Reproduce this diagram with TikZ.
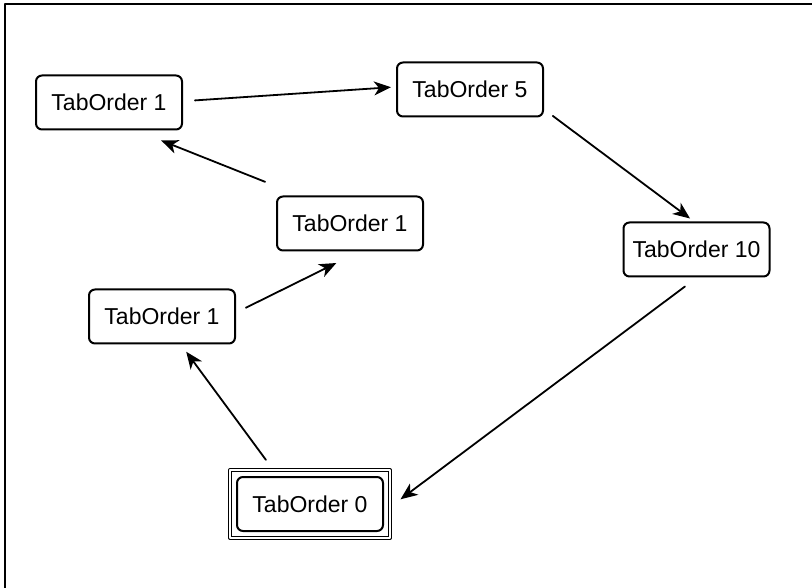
\documentclass[tikz,border=0pt]{standalone}
\usepackage{fontspec}
\setmainfont{Liberation Sans}
\usetikzlibrary{arrows.meta, fit}
\begin{document}
\begin{tikzpicture}[x=1pt, y=-1pt, line join=round, line cap=round,
	every node/.style={font=\fontsize{23}{27}\selectfont},
	tabbox/.style={draw, line width=2pt, rounded corners=6pt, minimum width=146pt, minimum height=54pt, inner sep=4pt},
	link/.style={-{Stealth[length=17pt, width=14pt, inset=5pt]}, line width=1.8pt}]
	
	\useasboundingbox (0,0) rectangle (812,588);
	
	\draw[line width=2.5pt, line cap=butt] (5,588) -- (5,4) -- (812,4);
	
	\node[tabbox] (topleft) at (109,102.5) {TabOrder 1};
	
	\node[tabbox] (five) at (470,89.5) {TabOrder 5};
	
	\node[tabbox] (ten) at (696.5,249.5) {TabOrder 10};
	
	\node[tabbox] (middle) at (350,223.5) {TabOrder 1};
	
	\node[tabbox] (lower) at (162,316.5) {TabOrder 1};
	
	\node[tabbox] (zero) at (310,504) {TabOrder 0};
	
	\node[draw, double, double distance=2pt, line width=1pt, inner sep=6pt, fit=(zero)] (zeroframe) {};
	
	\draw[link, shorten <=12pt, shorten >=5pt] (topleft.1.4) -- (five.178.6);
	
	\draw[link, shorten <=11pt, shorten >=5pt] (five.-15.1) -- (ten.95.4);
	
	\draw[link, shorten <=15pt, shorten >=12.5pt] (ten.-89) -- (zeroframe.-2.5);
	
	\draw[link, shorten <=12pt, shorten >=9pt] (zeroframe.137) -- (lower.-56);
	
	\draw[link, shorten <=11pt, shorten >=26pt] (lower.3.5) -- (middle.-71.8);
	
	\draw[link, shorten <=37pt, shorten >=27pt] (middle.151) -- (topleft.-46.6);
	
\end{tikzpicture}
\end{document}
